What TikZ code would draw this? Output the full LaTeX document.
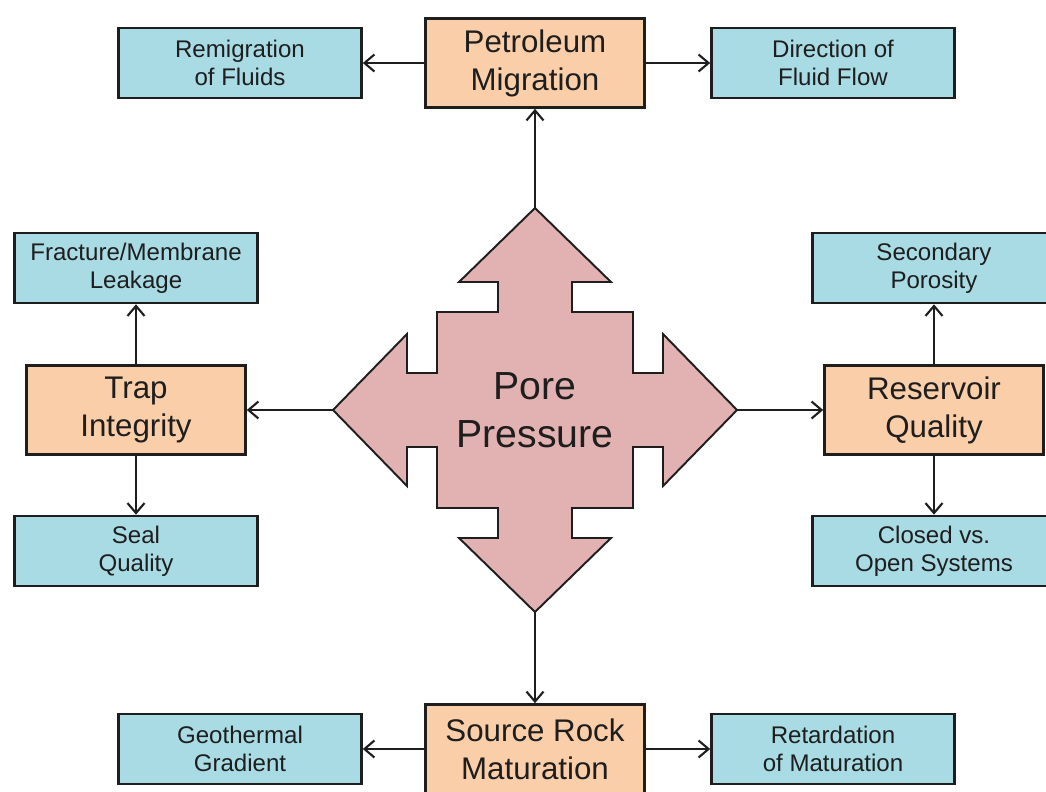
\documentclass[tikz,border=0pt]{standalone}
\usepackage{fontspec}
\setmainfont{Liberation Sans}
\usepackage{tikz}
\usetikzlibrary{arrows.meta}
\definecolor{ink}{RGB}{30,30,30}
\definecolor{boxblue}{RGB}{168,219,227}
\definecolor{boxorange}{RGB}{250,206,168}
\definecolor{porepink}{RGB}{226,178,178}

\begin{document}
\begin{tikzpicture}[x=0.02cm,y=-0.02cm]
    \tikzstyle{effect}=[draw=ink,line width=1.5pt,fill=boxblue,text=ink,align=center,inner sep=0pt,minimum width=4.86cm,minimum height=1.4cm,font=\fontsize{13.7}{16}\selectfont]
    \tikzstyle{factor}=[draw=ink,line width=1.5pt,fill=boxorange,text=ink,align=center,inner sep=0pt,minimum width=4.38cm,minimum height=1.78cm,font=\fontsize{17.8}{21.6}\selectfont]
    \tikzstyle{link}=[draw=ink,line width=1.2pt,-{Straight Barb[length=2mm,width=3.4mm]}]

    \useasboundingbox (0,0) rectangle (1046,792);

    % four-way arrow in the middle
    \begin{scope}[shift={(535,410)}]
    \draw [ink,line width=1.1pt,fill=porepink,line join=miter]
        (0,-202) -- (76,-128) -- (37,-128) -- (37,-98) -- (98,-98) -- (98,-37)
        -- (128,-37) -- (128,-76) -- (202,0) -- (128,76) -- (128,37) -- (98,37)
        -- (98,98) -- (37,98) -- (37,128) -- (76,128) -- (0,202) -- (-76,128)
        -- (-37,128) -- (-37,98) -- (-98,98) -- (-98,37) -- (-128,37) -- (-128,76)
        -- (-202,0) -- (-128,-76) -- (-128,-37) -- (-98,-37) -- (-98,-98)
        -- (-37,-98) -- (-37,-128) -- (-76,-128) -- cycle;
    \node[text=ink,align=center,font=\fontsize{22.3}{27.3}\selectfont](porepressure) at (0,0) {Pore\\Pressure};
    \coordinate (poretop) at (0,-202);
    \coordinate (porebottom) at (0,202);
    \coordinate (poreleft) at (-202,0);
    \coordinate (poreright) at (202,0);
    \end{scope}

    \node[factor](petroleummigration) at (535,63) {Petroleum\\Migration};
    \node[effect](remigration) at (240,63) {Remigration\\of Fluids};
    \node[effect](fluidflow) at (833,63) {Direction of\\Fluid Flow};

    \node[factor](trapintegrity) at (136,410) {Trap\\Integrity};
    \node[effect](leakage) at (136,268) {Fracture/Membrane\\Leakage};
    \node[effect](sealquality) at (136,551) {Seal\\Quality};

    \node[factor](reservoirquality) at (934,410) {Reservoir\\Quality};
    \node[effect](porosity) at (934,268) {Secondary\\Porosity};
    \node[effect](opensystems) at (934,551) {Closed vs.\\Open Systems};

    \node[factor](sourcerock) at (535,749) {Source Rock\\Maturation};
    \node[effect](geothermal) at (240,749) {Geothermal\\Gradient};
    \node[effect](retardation) at (833,749) {Retardation\\of Maturation};

    \draw [link] (poretop) -- (petroleummigration);
    \draw [link] (petroleummigration) -- (remigration);
    \draw [link] (petroleummigration) -- (fluidflow);

    \draw [link] (poreleft) -- (trapintegrity);
    \draw [link] (trapintegrity) -- (leakage);
    \draw [link] (trapintegrity) -- (sealquality);

    \draw [link] (poreright) -- (reservoirquality);
    \draw [link] (reservoirquality) -- (porosity);
    \draw [link] (reservoirquality) -- (opensystems);

    \draw [link] (porebottom) -- (sourcerock);
    \draw [link] (sourcerock) -- (geothermal);
    \draw [link] (sourcerock) -- (retardation);

\end{tikzpicture}
\end{document}
